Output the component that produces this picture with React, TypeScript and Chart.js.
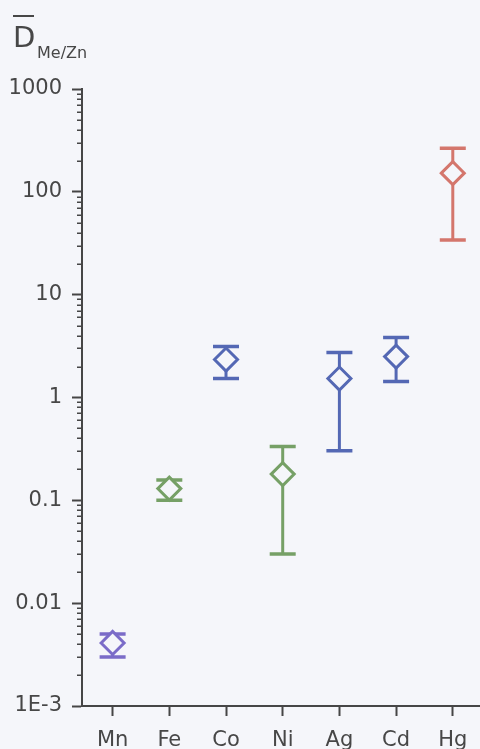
import React, { useEffect, useRef } from 'react';
import { Chart, registerables } from 'chart.js';

Chart.register(...registerables);

// ---- data ----
const categories = ['Mn', 'Fe', 'Co', 'Ni', 'Ag', 'Cd', 'Hg'];
const centerValues = [0.0041, 0.13, 2.34, 0.18, 1.53, 2.5, 152];
const upperValues = [0.005, 0.158, 3.13, 0.333, 2.74, 3.83, 265];
const lowerValues = [0.003, 0.1, 1.53, 0.03, 0.304, 1.43, 34];
const pointColors = ['#7b6cc8', '#76a066', '#5468b4', '#76a066', '#5468b4', '#5468b4', '#d4766c'];
const yTickValues = [0.001, 0.01, 0.1, 1, 10, 100, 1000];
const yTickLabels = ['1E-3', '0.01', '0.1', '1', '10', '100', '1000'];
const titleMain = 'D';
const titleSub = 'Me/Zn';

const BG = '#f5f6fa';
const AXIS = '#464646';
const TEXT = '#474747';
const FONT = "'DejaVu Sans', sans-serif";

const isPow10 = (v: number) => Math.abs(Math.log10(v) - Math.round(Math.log10(v))) < 1e-6;
const labelFor = (v: number) => {
  const i = yTickValues.findIndex((t) => Math.abs(Math.log10(t) - Math.log10(v)) < 1e-6);
  return i >= 0 ? yTickLabels[i] : '';
};

const bgPlugin = {
  id: 'bg',
  beforeDraw(chart: any) {
    const { ctx, width, height } = chart;
    ctx.save();
    ctx.fillStyle = BG;
    ctx.fillRect(0, 0, width, height);
    ctx.restore();
  },
};

const errorBarPlugin = {
  id: 'errbars',
  beforeDatasetsDraw(chart: any) {
    const { ctx } = chart;
    const yScale = chart.scales.y;
    const meta = chart.getDatasetMeta(0);
    ctx.save();
    meta.data.forEach((pt: any, i: number) => {
      const x = pt.x;
      const yHi = yScale.getPixelForValue(upperValues[i]);
      const yLo = yScale.getPixelForValue(lowerValues[i]);
      ctx.strokeStyle = pointColors[i];
      ctx.lineCap = 'butt';
      ctx.lineWidth = 3;
      ctx.beginPath();
      ctx.moveTo(x, yHi);
      ctx.lineTo(x, yLo);
      ctx.stroke();
      ctx.lineWidth = 3.5;
      ctx.beginPath();
      ctx.moveTo(x - 13, yHi);
      ctx.lineTo(x + 13, yHi);
      ctx.moveTo(x - 13, yLo);
      ctx.lineTo(x + 13, yLo);
      ctx.stroke();
    });
    ctx.restore();
  },
};

const extrasPlugin = {
  id: 'extras',
  afterDraw(chart: any) {
    const { ctx, chartArea } = chart;
    const yScale = chart.scales.y;
    ctx.save();
    // minor ticks on the y axis
    ctx.strokeStyle = AXIS;
    ctx.lineWidth = 1.5;
    ctx.beginPath();
    yScale.ticks.forEach((t: any) => {
      if (isPow10(t.value)) return;
      const py = Math.round(yScale.getPixelForValue(t.value)) + 0.25;
      ctx.moveTo(chartArea.left - 5, py);
      ctx.lineTo(chartArea.left, py);
    });
    ctx.stroke();
    // axis title (D with overbar, subscript Me/Zn)
    ctx.fillStyle = TEXT;
    ctx.textBaseline = 'alphabetic';
    ctx.textAlign = 'left';
    ctx.font = `29px ${FONT}`;
    ctx.fillText(titleMain, 13, 47);
    ctx.strokeStyle = TEXT;
    ctx.lineWidth = 2;
    ctx.beginPath();
    ctx.moveTo(13, 16);
    ctx.lineTo(34, 16);
    ctx.stroke();
    ctx.font = `16px ${FONT}`;
    ctx.fillText(titleSub, 37, 58);
    ctx.restore();
  },
};

export default function App() {
  const ref = useRef<HTMLCanvasElement | null>(null);

  useEffect(() => {
    document.body.style.margin = '0';
    document.body.style.background = BG;
    const canvas = ref.current;
    if (!canvas) return;
    const chart = new Chart(canvas, {
      type: 'scatter',
      data: {
        datasets: [
          {
            data: categories.map((_, i) => ({ x: i, y: centerValues[i] })),
            showLine: false,
            pointStyle: 'rectRot',
            pointRadius: 11.5,
            pointHoverRadius: 11.5,
            pointBorderWidth: 3,
            pointBorderColor: pointColors,
            pointBackgroundColor: BG,
          },
        ],
      },
      options: {
        responsive: false,
        animation: false,
        devicePixelRatio: 1,
        layout: { autoPadding: false, padding: { top: 89, right: 0, bottom: 0, left: 0 } },
        plugins: { legend: { display: false }, tooltip: { enabled: false }, title: { display: false } },
        scales: {
          x: {
            type: 'linear',
            min: -0.54,
            max: 6.48,
            afterBuildTicks: (scale: any) => {
              scale.ticks = categories.map((_, i) => ({ value: i }));
            },
            afterFit: (scale: any) => {
              scale.height = 43;
              scale.paddingLeft = 0;
              scale.paddingRight = 0;
            },
            grid: {
              display: true,
              drawOnChartArea: false,
              drawTicks: true,
              tickLength: 10,
              tickColor: AXIS,
              tickWidth: 2,
            },
            border: { display: true, color: AXIS, width: 2 },
            ticks: {
              autoSkip: false,
              maxRotation: 0,
              padding: 12,
              color: TEXT,
              font: { family: FONT, size: 21 },
              callback: (v: any) => categories[Math.round(Number(v))] ?? '',
            },
          },
          y: {
            type: 'logarithmic',
            min: 0.001,
            max: 1000,
            afterBuildTicks: (scale: any) => {
              const ticks: any[] = [];
              for (let e = -3; e < 3; e++) {
                for (let m = 1; m <= 9; m++) ticks.push({ value: m * Math.pow(10, e) });
              }
              ticks.push({ value: 1000 });
              scale.ticks = ticks;
            },
            afterFit: (scale: any) => {
              scale.width = 82;
            },
            grid: {
              display: true,
              drawOnChartArea: false,
              drawTicks: true,
              tickLength: 10,
              tickWidth: 2,
              tickColor: (ctx: any) => (ctx.tick && isPow10(ctx.tick.value) ? AXIS : 'rgba(0,0,0,0)'),
            },
            border: { display: true, color: AXIS, width: 2 },
            ticks: {
              autoSkip: false,
              padding: 10,
              color: TEXT,
              font: { family: FONT, size: 21 },
              callback: (v: any) => labelFor(Number(v)),
            },
          },
        },
      },
      plugins: [bgPlugin, errorBarPlugin, extrasPlugin],
    } as any);
    return () => chart.destroy();
  }, []);

  return (
    <div style={{ position: 'fixed', left: 0, top: 0, width: 480, height: 749, background: BG }}>
      <canvas ref={ref} width={480} height={749} style={{ display: 'block', width: 480, height: 749 }} />
    </div>
  );
}
